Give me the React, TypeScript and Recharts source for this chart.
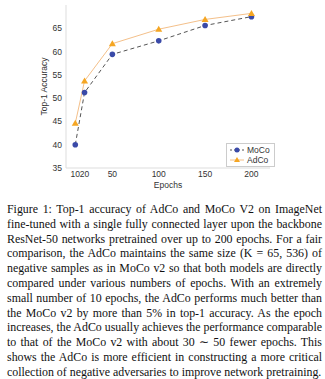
import { LineChart, Line, XAxis, YAxis } from "recharts"

const epochs = [10, 20, 50, 100, 150, 200]
const moco = [40.0, 51.2, 59.4, 62.3, 65.6, 67.5]
const adco = [44.6, 53.7, 61.7, 64.8, 66.9, 68.2]
const yTicks = [35, 40, 45, 50, 55, 60, 65]

const data = epochs.map((e, i) => ({ epoch: e, MoCo: moco[i], AdCo: adco[i] }))

const caption =
  "Figure 1: Top-1 accuracy of AdCo and MoCo V2 on ImageNet fine-tuned with a single fully connected layer upon the backbone ResNet-50 networks pretrained over up to 200 epochs. For a fair comparison, the AdCo maintains the same size (K = 65, 536) of negative samples as in MoCo v2 so that both models are directly compared under various numbers of epochs. With an extremely small number of 10 epochs, the AdCo performs much better than the MoCo v2 by more than 5% in top-1 accuracy. As the epoch increases, the AdCo usually achieves the performance comparable to that of the MoCo v2 with about 30 ∼ 50 fewer epochs. This shows the AdCo is more efficient in constructing a more critical collection of negative adversaries to improve network pretraining."

const tickStyle = { fontSize: 8.5, fill: "#333", fontFamily: "Liberation Sans" }

const Triangle = (props: any) => {
  const { cx, cy } = props
  if (cx == null || cy == null) return null
  return <path d={`M${cx},${cy - 3.5} L${cx + 3.5},${cy + 2.5} L${cx - 3.5},${cy + 2.5} Z`} fill="#f5a623" />
}

const LegendBox = () => (
  <div style={{ position: "absolute", left: 226, top: 143, border: "1px solid #ccc", background: "#fff", padding: "1px 4px 1px 3px", fontSize: 8.5, fontFamily: "Liberation Sans", color: "#333", lineHeight: "10px" }}>
    <div style={{ display: "flex", alignItems: "center" }}>
      <svg width={14} height={8}>
        <line x1={0} y1={4} x2={14} y2={4} stroke="#555" strokeDasharray="2 2" />
        <circle cx={7} cy={4} r={2.5} fill="#3a4aa8" />
      </svg>
      <span style={{ marginLeft: 3 }}>MoCo</span>
    </div>
    <div style={{ display: "flex", alignItems: "center" }}>
      <svg width={14} height={8}>
        <line x1={0} y1={4} x2={14} y2={4} stroke="#f4c08a" />
        <path d="M7,1 L10,6 L4,6 Z" fill="#f5a623" />
      </svg>
      <span style={{ marginLeft: 3 }}>AdCo</span>
    </div>
  </div>
)

export default function App() {
  return (
    <div style={{ position: "absolute", left: 0, top: 0, width: 325, height: 379, background: "#fff" }}>
      <LineChart width={325} height={190} data={data} margin={{ top: 5, right: 55, left: 0, bottom: 0 }}>
        <XAxis
          dataKey="epoch"
          type="number"
          domain={[0, 220]}
          ticks={epochs}
          interval={0}
          tick={tickStyle}
          tickLine={false}
          tickSize={1}
          axisLine={{ stroke: "#ddd" }}
          height={22}
          label={{ value: "Epochs", position: "insideBottom", offset: 2, style: { ...tickStyle, fontSize: 8.5 } }}
        />
        <YAxis
          type="number"
          domain={[35, 70]}
          ticks={yTicks}
          interval={0}
          tick={tickStyle}
          tickLine={false}
          tickSize={2}
          axisLine={{ stroke: "#ddd" }}
          width={66}
          label={{ value: "Top-1 Accuracy", angle: -90, position: "insideLeft", offset: 44, style: { ...tickStyle, fontSize: 8.5, textAnchor: "middle" } }}
        />
        <Line dataKey="MoCo" stroke="#555" strokeWidth={1} strokeDasharray="4 3" dot={{ r: 2.8, fill: "#3a4aa8", stroke: "none" }} isAnimationActive={false} />
        <Line dataKey="AdCo" stroke="#f4c08a" strokeWidth={1} dot={<Triangle />} isAnimationActive={false} />
      </LineChart>
      <LegendBox />
      <div style={{ position: "absolute", left: 7, top: 202, width: 315, fontFamily: "Liberation Serif", fontSize: 11.9, lineHeight: "14.8px", textAlign: "justify", color: "#111" }}>
        {caption}
      </div>
    </div>
  )
}
